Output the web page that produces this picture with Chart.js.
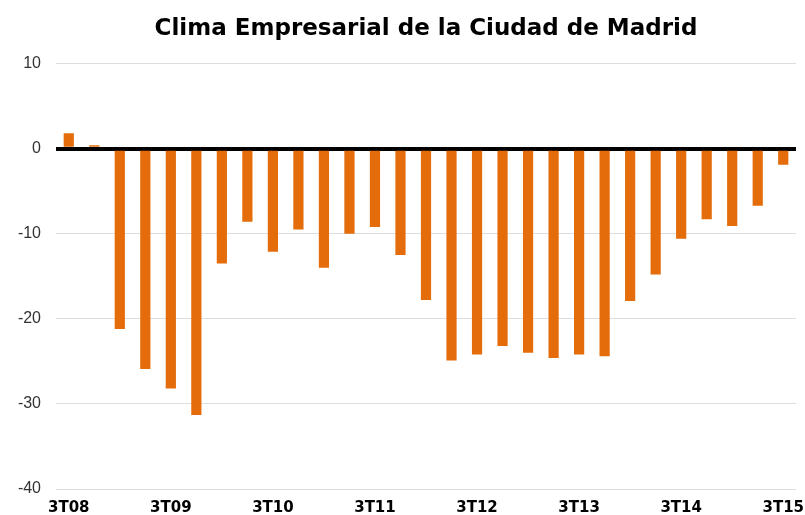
<!DOCTYPE html>
<html>
<head>
<meta charset="utf-8">
<script src="https://cdn.jsdelivr.net/npm/chart.js@4"></script>
<style>
  html, body { margin: 0; padding: 0; background: #fff; }
  #wrap { width: 805px; height: 515px; }
</style>
</head>
<body>
<div id="wrap"><canvas id="chart" width="805" height="515"></canvas></div>
<script>
// trimestres (3T08 ... 3T15)
const quarters = [
  "3T08", "4T08", "1T09", "2T09", "3T09", "4T09", "1T10", "2T10", "3T10", "4T10",
  "1T11", "2T11", "3T11", "4T11", "1T12", "2T12", "3T12", "4T12", "1T13", "2T13",
  "3T13", "4T13", "1T14", "2T14", "3T14", "4T14", "1T15", "2T15", "3T15"
];
const clima = [
  1.8, 0.4, -21.2, -25.9, -28.2, -31.3, -13.5, -8.6, -12.1, -9.5,
  -14.0, -10.0, -9.2, -12.5, -17.8, -24.9, -24.2, -23.2, -24.0, -24.6,
  -24.2, -24.4, -17.9, -14.8, -10.6, -8.3, -9.1, -6.7, -1.9
];
const yTicks = [10, 0, -10, -20, -30, -40];
const shownLabels = ["3T08", "3T09", "3T10", "3T11", "3T12", "3T13", "3T14", "3T15"];

const ctx = document.getElementById('chart').getContext('2d');

new Chart(ctx, {
  type: 'bar',
  data: {
    labels: quarters,
    datasets: [{
      data: clima,
      backgroundColor: '#E46C0A',
      borderWidth: 0,
      barPercentage: 0.4,
      categoryPercentage: 1.0
    }]
  },
  options: {
    responsive: false,
    animation: false,
    layout: { padding: { top: 0, right: 9, bottom: 0, left: 0 } },
    plugins: {
      legend: { display: false },
      tooltip: { enabled: false },
      title: {
        display: true,
        fullSize: false,
        text: 'Clima Empresarial de la Ciudad de Madrid',
        color: '#000',
        font: { family: 'DejaVu Sans, sans-serif', size: 23, weight: 'bold' },
        padding: { top: 15, bottom: 21 }
      }
    },
    scales: {
      x: {
        grid: { display: false, drawTicks: false },
        border: { display: false },
        ticks: {
          autoSkip: false,
          maxRotation: 0,
          padding: 10,
          color: '#000',
          font: { family: 'DejaVu Sans, sans-serif', size: 15, weight: 'bold' },
          callback: function (value) {
            const lab = quarters[value];
            return shownLabels.includes(lab) ? lab : '';
          }
        },
        afterFit: (scale) => {
          scale.height = 26;
          scale.paddingLeft = 0;
          scale.paddingRight = 0;
        }
      },
      y: {
        min: -40,
        max: 10,
        afterBuildTicks: (scale) => { scale.ticks = yTicks.map(v => ({ value: v })); },
        grid: {
          drawTicks: false,
          color: (c) => c.tick && c.tick.value === 0 ? '#000' : '#dddddd',
          lineWidth: (c) => c.tick && c.tick.value === 0 ? 4 : 1
        },
        border: { display: false },
        ticks: {
          padding: 15,
          color: '#333',
          font: { family: 'Liberation Sans, Arial, sans-serif', size: 16 }
        },
        afterFit: (scale) => { scale.width = 56; }
      }
    }
  }
});
</script>
</body>
</html>
